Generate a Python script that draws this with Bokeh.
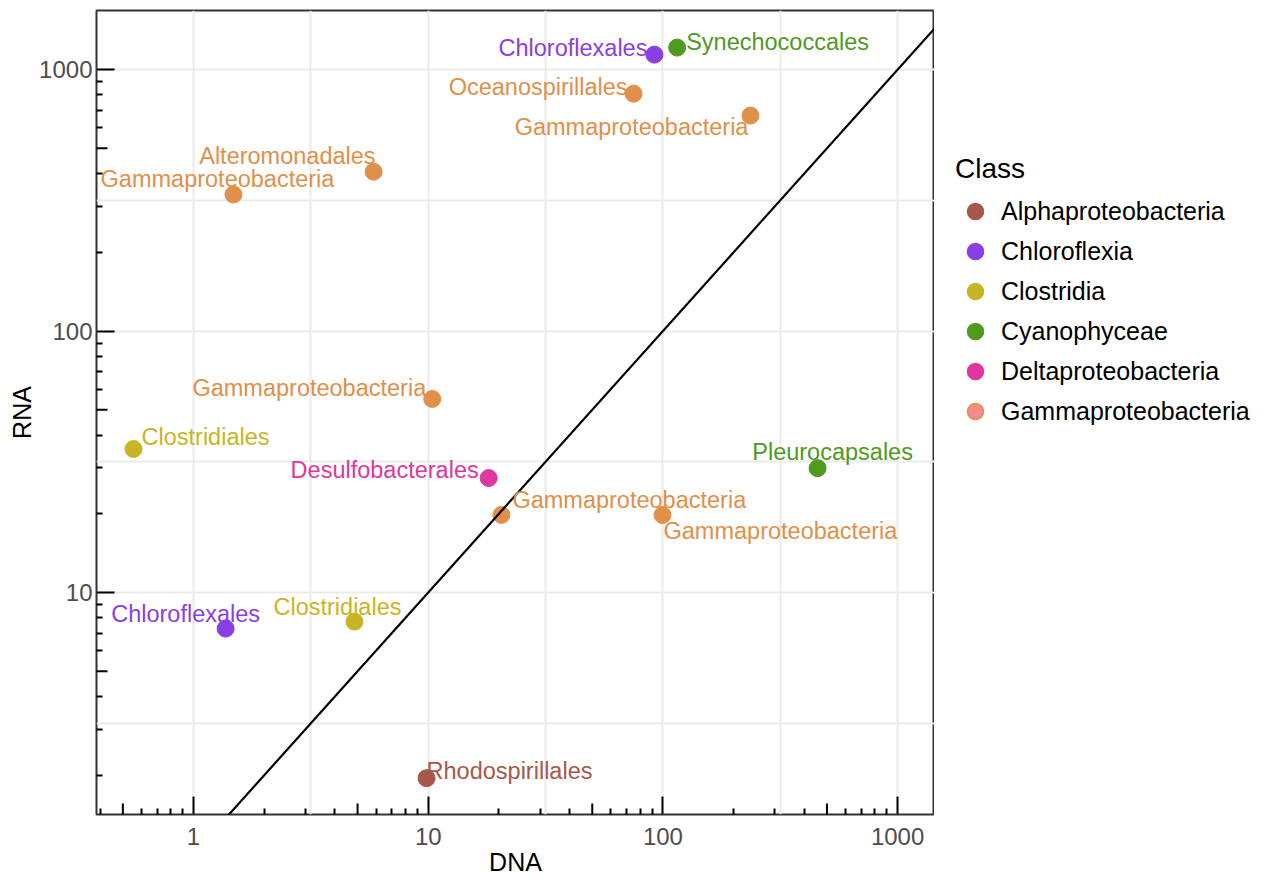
from bokeh.plotting import figure
from bokeh.layouts import row
from bokeh.models import ColumnDataSource, FixedTicker, Legend, LegendItem, PrintfTickFormatter, Range1d
from bokeh.core.properties import value
from bokeh.embed import file_html
from bokeh.resources import INLINE

# ---- data ----
dna = [92, 115, 75, 236, 5.85, 1.48, 10.4, 0.555, 18.1, 20.5, 99.6, 456, 1.37, 4.85, 9.84]
rna = [1141, 1214, 809, 667, 407, 333, 55, 35.4, 27.4, 19.8, 19.8, 29.9, 7.28, 7.74, 1.95]
order_names = ["Chloroflexales", "Synechococcales", "Oceanospirillales", "Gammaproteobacteria",
               "Alteromonadales", "Gammaproteobacteria", "Gammaproteobacteria", "Clostridiales",
               "Desulfobacterales", "Gammaproteobacteria", "Gammaproteobacteria", "Pleurocapsales",
               "Chloroflexales", "Clostridiales", "Rhodospirillales"]
point_class = ["Chloroflexia", "Cyanophyceae", "Gammaproteobacteria", "Gammaproteobacteria",
               "Gammaproteobacteria", "Gammaproteobacteria", "Gammaproteobacteria", "Clostridia",
               "Deltaproteobacteria", "Gammaproteobacteria", "Gammaproteobacteria", "Cyanophyceae",
               "Chloroflexia", "Clostridia", "Alphaproteobacteria"]
classes = ["Alphaproteobacteria", "Chloroflexia", "Clostridia", "Cyanophyceae",
           "Deltaproteobacteria", "Gammaproteobacteria"]
x_major = [1, 10, 100, 1000]
y_major = [10, 100, 1000]

# ---- styles / layout ----
class_colors = ["#A5584B", "#8A3FE6", "#C8B526", "#4F9A1F", "#E0369F", "#E0904A"]
legend_fill = ["#A5584B", "#8A3FE6", "#C8B526", "#4F9A1F", "#E0369F", "#F48C8C"]
label_align = ["right", "left", "right", "right", "right", "center", "right", "left",
               "right", "left", "left", "center", "center", "center", "left"]
label_dx = [-7, 9, -6, -2, 2, -16, -6, 8, -10, 11, 1, 15, -40, -17, 0]
label_dy = [-7, -6, -7, 11, -16, -15, -11, -12, -8, -15, 16, -16, -15, -15, -7]

X_RANGE = (0.386, 1436)
Y_RANGE = (1.416, 1683)
FONT = "Liberation Sans"

cmap = dict(zip(classes, class_colors))
src = ColumnDataSource(dict(
    dna=dna, rna=rna, name=order_names, cls=point_class,
    color=[cmap[c] for c in point_class],
    align=label_align, dx=label_dx, dy=label_dy,
))

p = figure(width=934, height=880, x_axis_type="log", y_axis_type="log",
           x_range=X_RANGE, y_range=Y_RANGE, output_backend="svg", toolbar_location=None,
           min_border_left=96, min_border_right=0, min_border_top=10, min_border_bottom=66)
p.background_fill_color = "white"
p.border_fill_color = "white"
p.outline_line_color = "#333333"
p.outline_line_width = 2

# log-tick positions
def minor_positions(lo, hi, mults):
    out = []
    for e in range(-2, 5):
        for m in mults:
            v = m * 10 ** e
            if lo <= v <= hi:
                out.append(v)
    return out

x_minor = minor_positions(*X_RANGE, [2, 3, 4, 6, 7, 8, 9])
y_minor = minor_positions(*Y_RANGE, [2, 3, 4, 6, 7, 8, 9])
x_mid = minor_positions(*X_RANGE, [5])
y_mid = minor_positions(*Y_RANGE, [5])

grid_x = [v * f for v in [0.1] + x_major for f in (1, 10 ** 0.5)]
grid_y = [v * f for v in [1] + y_major for f in (1, 10 ** 0.5)]
p.xgrid.ticker = FixedTicker(ticks=grid_x)
p.ygrid.ticker = FixedTicker(ticks=grid_y)
for g in (p.xgrid, p.ygrid):
    g.grid_line_color = "#EBEBEB"
    g.grid_line_width = 2

for ax, major, minor in ((p.xaxis[0], x_major, x_minor), (p.yaxis[0], y_major, y_minor)):
    ax.ticker = FixedTicker(ticks=major, minor_ticks=minor)
    ax.formatter = PrintfTickFormatter(format="%d")
    ax.axis_line_color = None
    ax.major_tick_in = 18
    ax.major_tick_out = 0
    ax.minor_tick_in = 6
    ax.minor_tick_out = 0
    ax.major_tick_line_color = "black"
    ax.minor_tick_line_color = "black"
    ax.major_tick_line_width = 2
    ax.minor_tick_line_width = 2
    ax.major_label_text_font = FONT
    ax.major_label_text_font_size = "24px"
    ax.major_label_text_color = "#4D4D4D"
    ax.axis_label_text_font = FONT
    ax.axis_label_text_font_size = "25px"
    ax.axis_label_text_font_style = "normal"
    ax.axis_label_text_color = "black"
    ax.axis_label_standoff = 0

p.xaxis.axis_label = "DNA"
p.yaxis.axis_label = "RNA"
p.xaxis.major_label_standoff = 13
p.yaxis.major_label_standoff = 4

# medium (5x) log ticks
p.scatter(x_mid, [Y_RANGE[0]] * len(x_mid), marker="dash", angle=1.5708, size=22,
          line_color="black", line_width=2)
p.scatter([X_RANGE[0]] * len(y_mid), y_mid, marker="dash", size=22,
          line_color="black", line_width=2)

# points
p.scatter("dna", "rna", source=src, size=17, fill_color="color", line_color="color")

# identity line
ident = [0.01, 100000]
p.line(ident, ident, line_color="black", line_width=2.2)

# labels
p.text("dna", "rna", text="name", source=src, text_color="color", text_align="align",
       text_baseline="middle", x_offset="dx", y_offset="dy",
       text_font=value(FONT), text_font_size="23.5px")

# ---- legend panel (separate figure to the right) ----
lg = figure(width=329, height=880, x_range=Range1d(0, 1), y_range=Range1d(0, 1),
            output_backend="svg", toolbar_location=None,
            x_axis_location=None, y_axis_location=None,
            min_border_left=0, min_border_right=0, min_border_top=0, min_border_bottom=0)
lg.outline_line_color = None
lg.xgrid.visible = False
lg.ygrid.visible = False
lg.background_fill_color = "white"
lg.border_fill_color = "white"

items = []
for c, fc, lc in zip(classes, legend_fill, class_colors):
    xs = [d for d, k in zip(dna, point_class) if k == c]
    ys = [r for r, k in zip(rna, point_class) if k == c]
    # class points lie outside this panel's 0..1 ranges, so only the legend key shows
    r = lg.scatter(xs, ys, size=17, fill_color=fc, line_color=lc, line_width=1.5)
    items.append(LegendItem(label=c, renderers=[r]))
legend = Legend(items=items, location=(21, 383), title="Class",
                title_text_font=FONT, title_text_font_size="28px", title_text_font_style="normal",
                title_text_color="black", title_standoff=6,
                label_text_font=FONT, label_text_font_size="25px", label_text_color="black",
                glyph_width=40, glyph_height=40, label_height=30, spacing=0, label_standoff=6,
                padding=0, margin=0, border_line_alpha=0, background_fill_alpha=0)
lg.add_layout(legend, "center")

layout = row(p, lg, spacing=0)
open("out.html", "w").write(file_html(layout, INLINE))
